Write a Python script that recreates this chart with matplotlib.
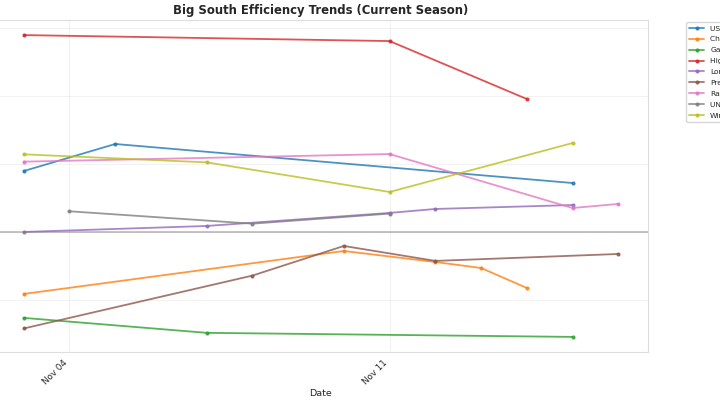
import pandas as pd
import matplotlib.pyplot as plt
import matplotlib.dates as mdates
import seaborn as sns

# net efficiency by team
teams = ["USC Upstate", "Charleston Southern", "Gardner-Webb", "High Point",
         "Longwood", "Presbyterian", "Radford", "UNC Asheville", "Winthrop"]

usc_dates = ["2024-11-03", "2024-11-05", "2024-11-15"]
usc_vals = [4.48, 6.47, 3.60]

chs_dates = ["2024-11-03", "2024-11-10", "2024-11-12", "2024-11-13", "2024-11-14"]
chs_vals = [-4.56, -1.40, -2.21, -2.65, -4.12]

gwu_dates = ["2024-11-03", "2024-11-07", "2024-11-15"]
gwu_vals = [-6.32, -7.42, -7.72]

hpu_dates = ["2024-11-03", "2024-11-11", "2024-11-14"]
hpu_vals = [14.48, 14.04, 9.78]

lon_dates = ["2024-11-03", "2024-11-07", "2024-11-11", "2024-11-12", "2024-11-15"]
lon_vals = [0.0, 0.44, 1.40, 1.69, 1.98]

pre_dates = ["2024-11-03", "2024-11-08", "2024-11-10", "2024-11-12", "2024-11-16"]
pre_vals = [-7.10, -3.21, -1.03, -2.13, -1.62]

rad_dates = ["2024-11-03", "2024-11-11", "2024-11-15", "2024-11-16"]
rad_vals = [5.17, 5.73, 1.76, 2.06]

unca_dates = ["2024-11-04", "2024-11-08", "2024-11-11"]
unca_vals = [1.52, 0.61, 1.35]

win_dates = ["2024-11-03", "2024-11-07", "2024-11-11", "2024-11-15"]
win_vals = [5.71, 5.12, 2.94, 6.54]

series = [(usc_dates, usc_vals), (chs_dates, chs_vals), (gwu_dates, gwu_vals),
          (hpu_dates, hpu_vals), (lon_dates, lon_vals), (pre_dates, pre_vals),
          (rad_dates, rad_vals), (unca_dates, unca_vals), (win_dates, win_vals)]

sns.set_style("whitegrid")
plt.rcParams['font.family'] = ['DejaVu Sans']

fig = plt.figure(figsize=(7.2, 4.05), dpi=100)
ax = fig.add_axes([-6 / 720, 53 / 405, 654 / 720, 332 / 405])

for team, (d, v) in zip(teams, series):
    ax.plot(pd.to_datetime(d), v, marker='o', markersize=2, linewidth=1.3,
            alpha=0.8, label=team)

ax.axhline(0, color='gray', linewidth=1.3, alpha=0.5)

ax.set_title("Big South Efficiency Trends (Current Season)", fontsize=8.4,
             fontweight='bold', pad=4)
ax.set_xlabel("Date", fontsize=6.8, labelpad=2)
ax.xaxis.set_major_locator(mdates.WeekdayLocator(byweekday=mdates.MO))
ax.xaxis.set_major_formatter(mdates.DateFormatter("%b %d"))
ax.tick_params(axis='x', labelsize=6.3, pad=1)
plt.setp(ax.get_xticklabels(), rotation=45, ha='right')
# y tick labels sit left of the visible area in the reference
ax.set_yticks([-5, 0, 5, 10, 15])
ax.tick_params(axis='y', labelleft=False)
ax.grid(True, alpha=0.25)
for s in ax.spines.values():
    s.set_color('#dddddd')

ax.legend(loc='upper left', bbox_to_anchor=(1.055, 1), fontsize=5.4,
          frameon=True, borderaxespad=0.3, labelspacing=0.62)

fig.savefig("out.png", dpi=100)
